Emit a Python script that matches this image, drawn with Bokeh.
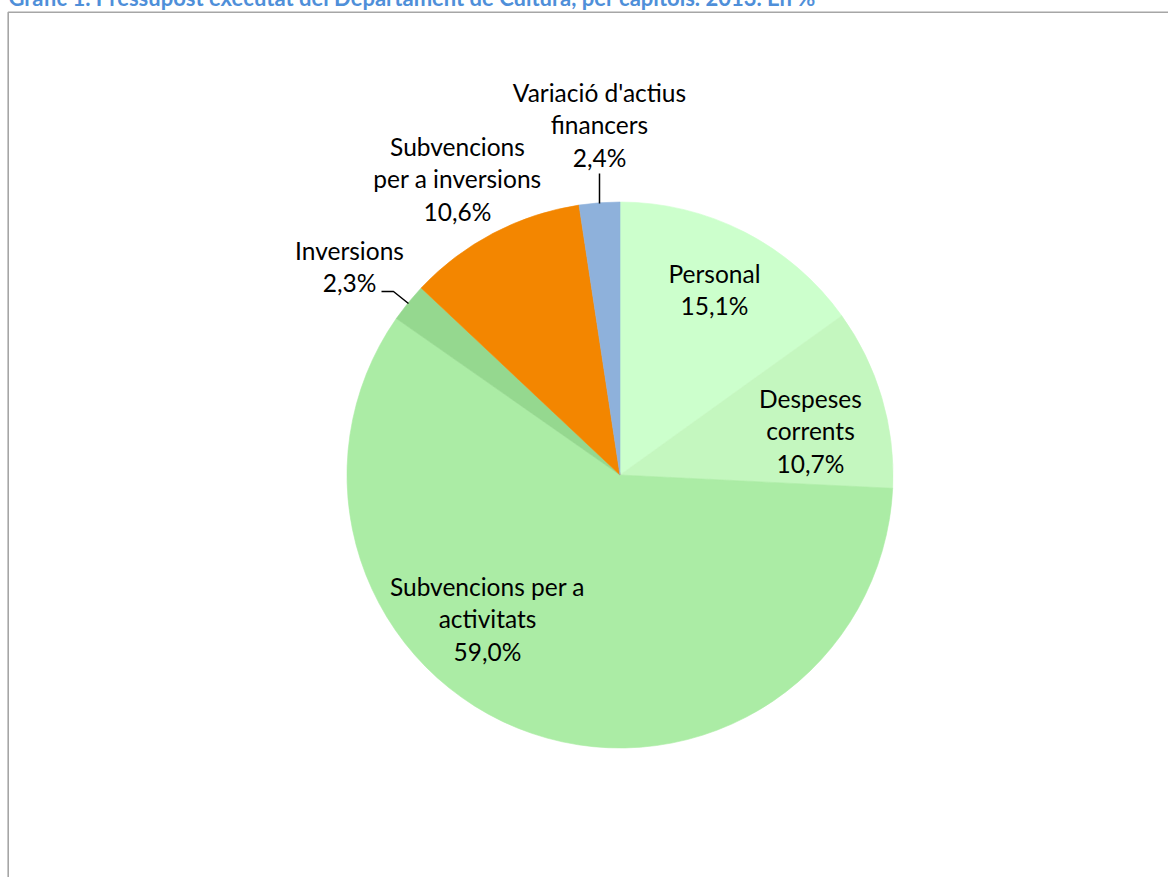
import numpy as np
from bokeh.plotting import figure
from bokeh.models import Range1d, ColumnDataSource
from bokeh.core.properties import value
from bokeh.embed import file_html
from bokeh.resources import INLINE

# ---------------- data ----------------
title = "Gràfic 1. Pressupost executat del Departament de Cultura, per capítols. 2013. En %"
categories = ["Personal", "Despeses corrents", "Subvencions per a activitats",
              "Inversions", "Subvencions per a inversions", "Variació d'actius financers"]
shares = [15.1, 10.7, 59.0, 2.3, 10.6, 2.4]
# how each category name is broken into lines in the chart
name_lines = [["Personal"], ["Despeses", "corrents"], ["Subvencions per a", "activitats"],
              ["Inversions"], ["Subvencions", "per a inversions"], ["Variació d'actius", "financers"]]
colors = ["#ccffcc", "#c4f7bf", "#abeca5", "#95d88f", "#f38600", "#8eb1db"]

# ---------------- layout ----------------
W, H = 1168, 885
OX, OY = 0, -8          # page offset of the figure's top-left corner


def X(px):
    return px - OX


def Y(py):
    return H - (py - OY)


cx, cy, R = 619.5, 474.5, 273
LINE = 32.5
# label block centres (page coordinates)
label_pos = [(714, 289), (810, 430), (487, 618), (349, 266), (457, 178), (599, 124)]

p = figure(width=W, height=H, x_range=Range1d(0, W), y_range=Range1d(0, H),
           output_backend="svg", toolbar_location=None, min_border=0,
           x_axis_type=None, y_axis_type=None)
p.grid.visible = False
p.outline_line_color = None
p.background_fill_color = "white"
p.styles = {"margin-top": "-8px"}

frac = np.array(shares) / np.sum(shares)
cum = np.concatenate([[0], np.cumsum(frac)])
start = np.pi / 2 - 2 * np.pi * cum[:-1]
end = np.pi / 2 - 2 * np.pi * cum[1:]

src = ColumnDataSource(dict(cat=categories, share=shares, start=start, end=end, color=colors))
p.wedge(x=X(cx), y=Y(cy), radius=R, start_angle="start", end_angle="end",
        direction="clock", fill_color="color", line_color="color", line_width=0.6,
        source=src)

# labels, one text per line
lx, ly, lt = [], [], []
for (ax, ay), nl, v in zip(label_pos, name_lines, shares):
    lines = nl + [f"{v:.1f}".replace(".", ",") + "%"]
    n = len(lines)
    for i, s in enumerate(lines):
        lx.append(X(ax))
        ly.append(Y(ay + (i - (n - 1) / 2) * LINE))
        lt.append(s)
p.text(x=lx, y=ly, text=lt, text_align="center", text_baseline="middle",
       text_font=value("Lato"), text_font_size="24.5px", text_color="#000000")

# leader lines
p.line(x=[X(599), X(599)], y=[Y(173), Y(203)], line_color="#000000", line_width=1.5)
p.line(x=[X(381), X(393), X(408)], y=[Y(291), Y(291), Y(303)], line_color="#000000", line_width=1.5)

# frame of the chart area
p.line(x=[X(7.7), X(7.7), X(1180)], y=[Y(900), Y(11.8), Y(11.8)], line_color="#a6a6a6", line_width=1.6)

# title (partly cut off at the top, as in the original)
p.text(x=[X(8)], y=[Y(-3)], text=[title], text_align="left", text_baseline="alphabetic",
       text_font=value("Lato"), text_font_style="bold", text_font_size="22px",
       text_color="#4f8fd9")

open("out.html", "w").write(file_html(p, INLINE))
